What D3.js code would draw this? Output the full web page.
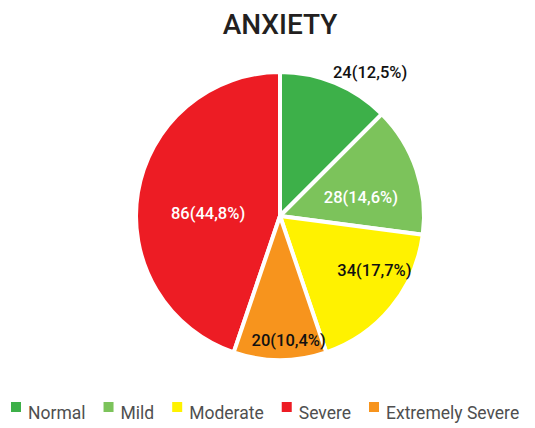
<!DOCTYPE html>
<html>
<head>
<meta charset="utf-8">
<script src="https://cdn.jsdelivr.net/npm/d3@7"></script>
<style>
  body { margin: 0; background: #fff; }
  svg { display: block; }
</style>
</head>
<body>
<svg id="chart" width="535" height="428"></svg>
<script>
'use strict';
// Anxiety levels, counts
const categories = ['Normal', 'Mild', 'Moderate', 'Severe', 'Extremely Severe'];
const counts = [24, 28, 34, 86, 20];
const colors = ['#3db049', '#7cc35b', '#fff200', '#ed1c24', '#f7941d'];
// clockwise order of slices from 12 o'clock
const sliceOrder = ['Normal', 'Mild', 'Moderate', 'Extremely Severe', 'Severe'];

const svg = d3.select('#chart');
const center = { x: 280, y: 216 };
const radius = 144;

// label placement per slice (polar: radius and angle in degrees from 12 o'clock)
const labelStyle = {
    'Normal': { r: 170, angle: 32, fill: '#111' },
    'Mild': { r: 83, angle: 77, fill: '#fff' },
    'Moderate': { r: 109, angle: 120, fill: '#111' },
    'Severe': { r: 72, angle: 272, fill: '#fff' },
    'Extremely Severe': { r: 124, angle: 176, fill: '#111' }
};

const data = categories.map((c, i) => ({ name: c, value: counts[i], color: colors[i] }));
const total = d3.sum(counts);

svg.append('text')
    .attr('x', center.x)
    .attr('y', 34)
    .attr('text-anchor', 'middle')
    .style('font-family', 'Roboto, sans-serif')
    .style('font-weight', 500)
    .style('font-size', '28px')
    .style('fill', '#231f20')
    .text('ANXIETY');

const pie = d3.pie()
    .sort((a, b) => sliceOrder.indexOf(a.name) - sliceOrder.indexOf(b.name))
    .value(d => d.value);
const arc = d3.arc().innerRadius(0).outerRadius(radius);
const arcs = pie(data);

const g = svg.append('g')
    .attr('transform', 'translate(' + center.x + ',' + center.y + ')');

g.selectAll('path')
    .data(arcs)
    .enter()
    .append('path')
    .attr('d', arc)
    .style('fill', d => d.data.color)
    .style('stroke', '#fff')
    .style('stroke-width', 4)
    .style('stroke-linejoin', 'round');

const fmt = v => (v * 100).toFixed(1).replace('.', ',');

g.selectAll('text.lbl')
    .data(arcs)
    .enter()
    .append('text')
    .attr('class', 'lbl')
    .attr('transform', d => {
        const s = labelStyle[d.data.name];
        const a = s.angle * Math.PI / 180;
        return 'translate(' + (Math.sin(a) * s.r) + ',' + (-Math.cos(a) * s.r) + ')';
    })
    .attr('text-anchor', 'middle')
    .attr('dy', '0.36em')
    .style('font-family', 'Roboto, sans-serif')
    .style('font-weight', 500)
    .style('font-size', '16.5px')
    .style('fill', d => labelStyle[d.data.name].fill)
    .text(d => d.data.value + '(' + fmt(d.data.value / total) + '%)');

// legend
const legend = svg.append('g').attr('transform', 'translate(11,0)');
let xPos = 0;
data.forEach(d => {
    const item = legend.append('g').attr('transform', 'translate(' + xPos + ',0)');
    item.append('rect')
        .attr('x', 0)
        .attr('y', 402)
        .attr('width', 10)
        .attr('height', 10)
        .style('fill', d.color);
    const t = item.append('text')
        .attr('x', 17)
        .attr('y', 419)
        .style('font-family', 'Roboto, sans-serif')
        .style('font-size', '17.5px')
        .style('fill', '#4f4f4f')
        .text(d.name);
    xPos += 17 + t.node().getComputedTextLength() + 18;
});
</script>
</body>
</html>
